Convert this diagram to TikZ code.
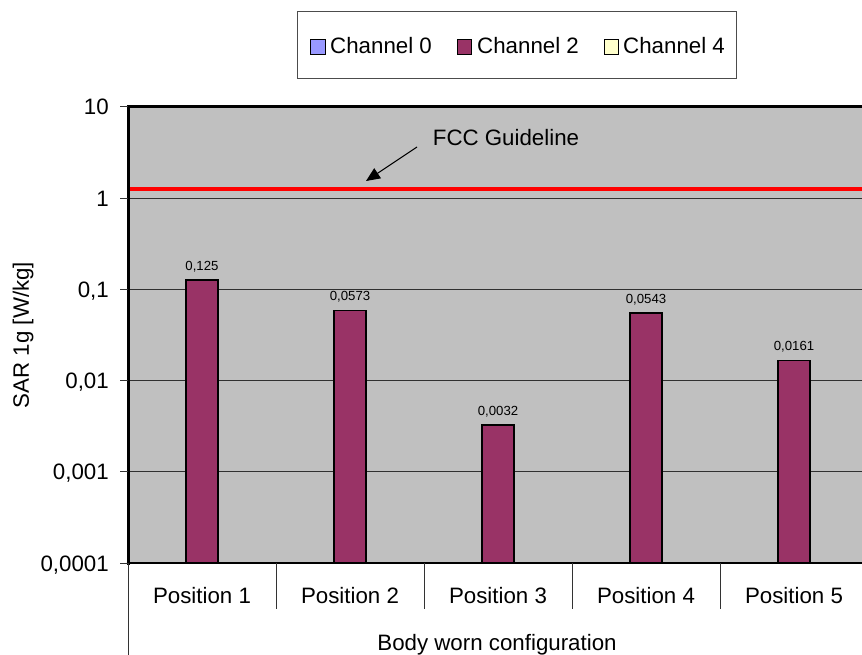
\documentclass[tikz,border=0pt]{standalone}
\usepackage{fontspec}
\setmainfont{Liberation Sans}
\usetikzlibrary{arrows.meta}
\definecolor{plotbg}{HTML}{C0C0C0}
\definecolor{barcol}{HTML}{993366}
\definecolor{ch0}{HTML}{9999FF}
\definecolor{ch4}{HTML}{FFFFCC}
\definecolor{gridcol}{HTML}{303030}
\tikzset{
  bigtext/.style={font=\fontsize{22.3}{25}\selectfont, inner sep=0pt},
  vallabel/.style={font=\fontsize{13.2}{15}\selectfont, inner sep=0pt},
  bar/.style={draw=black, line width=1.2pt, fill=barcol, minimum width=32pt, inner sep=0pt},
  legsq/.style={draw=black, line width=0.9pt, minimum width=14.5pt, minimum height=14.5pt, inner sep=0pt},
  gridline/.style={draw=gridcol, line width=1pt},
  axisline/.style={draw=black, line width=3pt},
  thinaxis/.style={draw=black!80, line width=1pt},
}
\begin{document}
\begin{tikzpicture}[x=1pt, y=-1pt]
\useasboundingbox (0,0) rectangle (862,655);
% plot area
\fill[plotbg] (128,107) rectangle (862,563);
% gridlines
\foreach \k in {1,2,3,4} {
  \draw[gridline] (128,563-91.2*\k) -- (862,563-91.2*\k);
}
% FCC guideline
\coordinate (fccL) at (130,189);
\coordinate (fccR) at (862,189);
\draw[red, line width=4.5pt] (fccL) -- (fccR);
\node[bigtext, anchor=base] (fcc) at (506,146) {FCC Guideline};
\coordinate (fcctail) at (417,147);
\coordinate (fcchead) at (366,181);
\draw[line width=1pt, -{Triangle[length=14pt,width=12pt]}] (fcctail) -- (fcchead);
% bars
\foreach \cx/\v/\t [count=\i] in {202/0.125/{0,125}, 350/0.0573/{0,0573}, 498/0.0032/{0,0032}, 646/0.0543/{0,0543}, 794/0.0161/{0,0161}} {
  \pgfmathsetmacro\ytop{563-91.2*(log10(\v)+4)}
  \pgfmathsetmacro\h{563-\ytop}
  \node[bar, minimum height=\h pt, anchor=south] (b\i) at (\cx,563) {};
  \node[vallabel, anchor=base] (l\i) at (\cx,\ytop-10.5) {\t};
}
% axes
\draw[axisline] (128,107) -- (862,107);
\draw[axisline] (128,105.5) -- (128,564.5);
\draw[line width=2.5pt] (126.5,563) -- (862,563);
\draw[thinaxis] (128,563) -- (128,655);
\foreach \xx in {276,424,572,720} {
  \draw[thinaxis] (\xx,563) -- (\xx,609);
}
% y ticks and labels
\foreach \lab [count=\k from 0] in {{0,0001},{0,001},{0,01},{0,1},1,10} {
  \draw[thinaxis] (120,563-91.2*\k) -- (128,563-91.2*\k);
  \node[bigtext, anchor=base east] (t\k) at (109,563-91.2*\k+8) {\lab};
}
% category labels
\foreach \cx [count=\i] in {202,350,498,646,794} {
  \node[bigtext, anchor=base] (p\i) at (\cx,603) {Position \i};
}
\node[bigtext, anchor=base] (xtitle) at (497,650) {Body worn configuration};
\node[bigtext, rotate=90] (ytitle) at (23,335) {SAR 1g [W/kg]};
% legend
\node[draw=black!70, line width=1pt, minimum width=439pt, minimum height=67pt, inner sep=0pt] (legend) at (516.5,45.5) {};
\node[legsq, fill=ch0] (sq0) at (318,47) {};
\node[bigtext, anchor=base west] (c0) at (330,54) {Channel 0};
\node[legsq, fill=barcol] (sq2) at (464.5,47) {};
\node[bigtext, anchor=base west] (c2) at (477,54) {Channel 2};
\node[legsq, fill=ch4] (sq4) at (611.5,47) {};
\node[bigtext, anchor=base west] (c4) at (623,54) {Channel 4};
\end{tikzpicture}
\end{document}
